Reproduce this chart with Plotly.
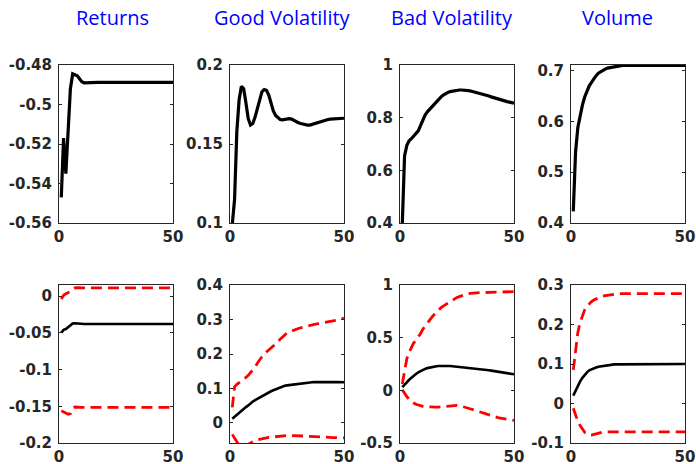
import plotly.graph_objects as go

horizon = list(range(1, 51))
titles = ["Returns", "Good Volatility", "Bad Volatility", "Volume"]

# Top row: impulse responses
ret_top = [-0.547, -0.517, -0.535, -0.512, -0.492, -0.4845, -0.485, -0.4855, -0.487, -0.4885,
           -0.489, -0.4889, -0.4888, -0.4888, -0.4888, -0.4888, -0.4888, -0.4888, -0.4888, -0.4888,
           -0.4888, -0.4888, -0.4888, -0.4888, -0.4888, -0.4888, -0.4888, -0.4888, -0.4888, -0.4888,
           -0.4888, -0.4888, -0.4888, -0.4888, -0.4888, -0.4888, -0.4888, -0.4888, -0.4888, -0.4888,
           -0.4888, -0.4888, -0.4888, -0.4888, -0.4888, -0.4888, -0.4888, -0.4888, -0.4888, -0.4888]
gvol_top = [0.099, 0.115, 0.158, 0.178, 0.1865, 0.185, 0.176, 0.166, 0.162, 0.163,
            0.167, 0.173, 0.179, 0.183, 0.1845, 0.184, 0.181, 0.176, 0.171, 0.168,
            0.1665, 0.1655, 0.1653, 0.1655, 0.166, 0.166, 0.1658, 0.165, 0.164, 0.1635,
            0.163, 0.1625, 0.162, 0.162, 0.162, 0.1625, 0.163, 0.1635, 0.164, 0.1645,
            0.165, 0.1652, 0.1655, 0.1657, 0.1658, 0.1659, 0.166, 0.1661, 0.1662, 0.1663]
bvol_top = [0.395, 0.655, 0.695, 0.712, 0.72, 0.73, 0.738, 0.75, 0.77, 0.793,
            0.81, 0.822, 0.832, 0.843, 0.853, 0.862, 0.871, 0.879, 0.886, 0.892,
            0.896, 0.899, 0.901, 0.903, 0.904, 0.905, 0.905, 0.905, 0.904, 0.903,
            0.901, 0.899, 0.897, 0.895, 0.892, 0.89, 0.887, 0.884, 0.882, 0.879,
            0.876, 0.874, 0.871, 0.869, 0.866, 0.864, 0.861, 0.859, 0.857, 0.855]
volu_top = [0.423, 0.54, 0.588, 0.612, 0.632, 0.648, 0.66, 0.67, 0.677, 0.684,
            0.69, 0.695, 0.698, 0.701, 0.703, 0.705, 0.706, 0.707, 0.708, 0.709,
            0.7095, 0.7098, 0.71, 0.71, 0.71, 0.71, 0.71, 0.71, 0.71, 0.71,
            0.71, 0.71, 0.71, 0.71, 0.71, 0.71, 0.71, 0.71, 0.71, 0.71,
            0.71, 0.71, 0.71, 0.71, 0.71, 0.71, 0.71, 0.71, 0.71, 0.71]

# Bottom row: responses with bands
ret_mid = [-0.05, -0.046, -0.045, -0.0425, -0.04, -0.0375, -0.037, -0.0375, -0.038, -0.038,
           -0.038, -0.038, -0.038, -0.038, -0.038, -0.038, -0.038, -0.038, -0.038, -0.038,
           -0.038, -0.038, -0.038, -0.038, -0.038, -0.038, -0.038, -0.038, -0.038, -0.038,
           -0.038, -0.038, -0.038, -0.038, -0.038, -0.038, -0.038, -0.038, -0.038, -0.038,
           -0.038, -0.038, -0.038, -0.038, -0.038, -0.038, -0.038, -0.038, -0.038, -0.038]
ret_up = [-0.004, 0.001, 0.003, 0.004, 0.006, 0.009, 0.011, 0.0115, 0.011, 0.011,
          0.011, 0.011, 0.011, 0.011, 0.011, 0.011, 0.011, 0.011, 0.011, 0.011,
          0.011, 0.011, 0.011, 0.011, 0.011, 0.011, 0.011, 0.011, 0.011, 0.011,
          0.011, 0.011, 0.011, 0.011, 0.011, 0.011, 0.011, 0.011, 0.011, 0.011,
          0.011, 0.011, 0.011, 0.011, 0.011, 0.011, 0.011, 0.011, 0.011, 0.011]
ret_lo = [-0.156, -0.158, -0.159, -0.161, -0.16, -0.153, -0.151, -0.1515, -0.1515, -0.1515,
          -0.1515, -0.1515, -0.1515, -0.1515, -0.1515, -0.1515, -0.1515, -0.1515, -0.1515, -0.1515,
          -0.1515, -0.1515, -0.1515, -0.1515, -0.1515, -0.1515, -0.1515, -0.1515, -0.1515, -0.1515,
          -0.1515, -0.1515, -0.1515, -0.1515, -0.1515, -0.1515, -0.1515, -0.1515, -0.1515, -0.1515,
          -0.1515, -0.1515, -0.1515, -0.1515, -0.1515, -0.1515, -0.1515, -0.1515, -0.1515, -0.1515]

gvol_mid = [0.012, 0.018, 0.024, 0.03, 0.035, 0.041, 0.046, 0.051, 0.057, 0.062,
            0.066, 0.07, 0.074, 0.078, 0.082, 0.085, 0.089, 0.092, 0.095, 0.098,
            0.1, 0.103, 0.106, 0.108, 0.109, 0.11, 0.111, 0.112, 0.113, 0.114,
            0.115, 0.116, 0.117, 0.1175, 0.118, 0.1183, 0.1186, 0.1188, 0.119, 0.119,
            0.119, 0.119, 0.119, 0.119, 0.1188, 0.1186, 0.1184, 0.1182, 0.118, 0.118]
gvol_up = [0.045, 0.105, 0.112, 0.117, 0.12, 0.125, 0.132, 0.138, 0.145, 0.153,
           0.162, 0.173, 0.184, 0.192, 0.2, 0.206, 0.212, 0.218, 0.223, 0.228,
           0.235, 0.243, 0.25, 0.256, 0.261, 0.264, 0.267, 0.269, 0.272, 0.274,
           0.276, 0.278, 0.28, 0.282, 0.284, 0.285, 0.286, 0.287, 0.288, 0.289,
           0.29, 0.291, 0.293, 0.294, 0.295, 0.297, 0.298, 0.3, 0.302, 0.304]
gvol_lo = [-0.033, -0.045, -0.058, -0.065, -0.068, -0.068, -0.066, -0.062, -0.058, -0.054,
           -0.051, -0.049, -0.047, -0.045, -0.044, -0.043, -0.042, -0.041, -0.04, -0.039,
           -0.038, -0.037, -0.0365, -0.036, -0.036, -0.036, -0.036, -0.036, -0.036, -0.0365,
           -0.037, -0.0375, -0.038, -0.0385, -0.039, -0.039, -0.0395, -0.04, -0.0402, -0.0405,
           -0.041, -0.0412, -0.0415, -0.042, -0.0422, -0.0424, -0.0426, -0.0428, -0.043, -0.043]

bvol_mid = [0.03, 0.05, 0.075, 0.1, 0.12, 0.14, 0.155, 0.17, 0.183, 0.194,
            0.203, 0.211, 0.217, 0.222, 0.226, 0.229, 0.231, 0.232, 0.233, 0.233,
            0.232, 0.231, 0.229, 0.227, 0.225, 0.223, 0.221, 0.219, 0.217, 0.215,
            0.213, 0.211, 0.209, 0.206, 0.203, 0.199, 0.196, 0.193, 0.19, 0.187,
            0.184, 0.181, 0.178, 0.175, 0.172, 0.168, 0.164, 0.16, 0.156, 0.152]
bvol_up = [0.06, 0.2, 0.3, 0.36, 0.41, 0.45, 0.47, 0.5, 0.54, 0.58,
           0.61, 0.645, 0.67, 0.695, 0.72, 0.745, 0.765, 0.785, 0.8, 0.815,
           0.83, 0.845, 0.86, 0.872, 0.882, 0.89, 0.898, 0.905, 0.912, 0.917,
           0.921, 0.924, 0.926, 0.927, 0.928, 0.928, 0.929, 0.929, 0.93, 0.93,
           0.931, 0.931, 0.932, 0.932, 0.933, 0.934, 0.935, 0.936, 0.937, 0.937]
bvol_lo = [0.005, -0.03, -0.06, -0.085, -0.105, -0.12, -0.132, -0.14, -0.147, -0.152,
           -0.155, -0.157, -0.158, -0.159, -0.16, -0.16, -0.159, -0.157, -0.154, -0.151,
           -0.148, -0.145, -0.143, -0.142, -0.143, -0.145, -0.15, -0.156, -0.163, -0.17,
           -0.177, -0.184, -0.19, -0.197, -0.205, -0.213, -0.221, -0.229, -0.236, -0.243,
           -0.249, -0.254, -0.259, -0.263, -0.267, -0.271, -0.275, -0.278, -0.282, -0.285]

volu_mid = [0.02, 0.033, 0.045, 0.056, 0.065, 0.073, 0.079, 0.084, 0.087, 0.089,
            0.091, 0.093, 0.094, 0.095, 0.096, 0.097, 0.098, 0.098, 0.099, 0.099,
            0.099, 0.1, 0.1, 0.1, 0.1, 0.1, 0.1, 0.1, 0.1, 0.1,
            0.1, 0.1, 0.1, 0.1, 0.1, 0.1, 0.1, 0.1, 0.1, 0.1,
            0.1, 0.1, 0.1, 0.1, 0.1, 0.1, 0.1, 0.1, 0.1, 0.1]
volu_up = [0.085, 0.14, 0.18, 0.205, 0.224, 0.237, 0.246, 0.253, 0.258, 0.262,
           0.265, 0.268, 0.27, 0.272, 0.273, 0.274, 0.275, 0.276, 0.277, 0.277,
           0.278, 0.278, 0.278, 0.278, 0.278, 0.278, 0.278, 0.278, 0.278, 0.278,
           0.278, 0.278, 0.278, 0.278, 0.278, 0.278, 0.278, 0.278, 0.278, 0.278,
           0.278, 0.278, 0.278, 0.278, 0.278, 0.278, 0.278, 0.278, 0.278, 0.278]
volu_lo = [-0.012, -0.03, -0.045, -0.056, -0.066, -0.073, -0.077, -0.08, -0.08, -0.078,
           -0.076, -0.075, -0.074, -0.073, -0.072, -0.072, -0.072, -0.072, -0.072, -0.072,
           -0.072, -0.072, -0.072, -0.072, -0.072, -0.072, -0.072, -0.072, -0.072, -0.072,
           -0.072, -0.072, -0.072, -0.072, -0.072, -0.072, -0.072, -0.072, -0.072, -0.072,
           -0.072, -0.072, -0.072, -0.072, -0.072, -0.072, -0.072, -0.072, -0.072, -0.072]

# Axis settings
top_ranges = [[-0.56, -0.48], [0.1, 0.2], [0.4, 1.0], [0.4, 0.711]]
top_ticks = [[-0.56, -0.54, -0.52, -0.5, -0.48], [0.1, 0.15, 0.2], [0.4, 0.6, 0.8, 1.0], [0.4, 0.5, 0.6, 0.7]]
top_labels = [["-0.56", "-0.54", "-0.52", "-0.5", "-0.48"], ["0.1", "0.15", "0.2"],
              ["0.4", "0.6", "0.8", "1"], ["0.4", "0.5", "0.6", "0.7"]]
bot_ranges = [[-0.2, 0.015], [-0.058, 0.4], [-0.5, 1.0], [-0.1, 0.3]]
bot_ticks = [[-0.2, -0.15, -0.1, -0.05, 0], [0, 0.1, 0.2, 0.3, 0.4], [-0.5, 0, 0.5, 1.0], [-0.1, 0, 0.1, 0.2, 0.3]]
bot_labels = [["-0.2", "-0.15", "-0.1", "-0.05", "0"], ["0", "0.1", "0.2", "0.3", "0.4"],
              ["-0.5", "0", "0.5", "1"], ["-0.1", "0", "0.1", "0.2", "0.3"]]
x_ticks = [0, 50]
x_labels = ["0", "50"]

W, H = 696, 464
col_px = [(59, 173), (230, 344), (400, 514), (571, 685)]
row_px = [(65, 223), (285, 443)]
title_cx = [112, 282, 452, 617]

top_series = [ret_top, gvol_top, bvol_top, volu_top]
bot_series = [(ret_mid, ret_up, ret_lo), (gvol_mid, gvol_up, gvol_lo),
              (bvol_mid, bvol_up, bvol_lo), (volu_mid, volu_up, volu_lo)]

fig = go.Figure()
tickfont = dict(family="DejaVu Sans", size=15, color="#262626", weight="bold")
axis_common = dict(showline=True, linecolor="#262626", linewidth=1, mirror="ticks",
                   ticks="inside", ticklen=3, tickcolor="#262626", showgrid=False,
                   zeroline=False, tickfont=tickfont, fixedrange=True, automargin=False,
                   ticklabeloverflow="allow")

layout = dict(width=W, height=H, margin=dict(l=0, r=0, t=0, b=0, pad=0, autoexpand=False),
              paper_bgcolor="white", plot_bgcolor="white", showlegend=False)
annotations = []

for r in range(2):
    for c in range(4):
        idx = r * 4 + c + 1
        xname = "x" if idx == 1 else f"x{idx}"
        yname = "y" if idx == 1 else f"y{idx}"
        if r == 0:
            fig.add_trace(go.Scatter(x=horizon, y=top_series[c], mode="lines",
                                     line=dict(color="black", width=3.2),
                                     xaxis=xname, yaxis=yname))
            yr, yt, yl = top_ranges[c], top_ticks[c], top_labels[c]
        else:
            mid, up, lo = bot_series[c]
            for s in (up, lo):
                fig.add_trace(go.Scatter(x=horizon, y=s, mode="lines",
                                         line=dict(color="#ff0000", width=2.8, dash="11px,6px"),
                                         xaxis=xname, yaxis=yname))
            fig.add_trace(go.Scatter(x=horizon, y=mid, mode="lines",
                                     line=dict(color="black", width=2.6),
                                     xaxis=xname, yaxis=yname))
            yr, yt, yl = bot_ranges[c], bot_ticks[c], bot_labels[c]
        x0, x1 = col_px[c]
        y0, y1 = row_px[r]
        layout["xaxis" if idx == 1 else f"xaxis{idx}"] = dict(
            axis_common, domain=[x0 / W, x1 / W], range=[0, 50],
            tickvals=x_ticks, ticktext=x_labels, anchor=yname)
        layout["yaxis" if idx == 1 else f"yaxis{idx}"] = dict(
            axis_common, domain=[1 - y1 / H, 1 - y0 / H], range=yr,
            tickvals=yt, ticktext=yl, anchor=xname, ticklabelstandoff=3)
        if r == 0:
            annotations.append(dict(text=titles[c], x=title_cx[c] / W, y=1 - 17 / H,
                                    xref="paper", yref="paper", showarrow=False,
                                    xanchor="center", yanchor="middle",
                                    font=dict(family="Open Sans", size=20, color="#0000ff")))

layout["annotations"] = annotations
fig.update_layout(**layout)
fig.write_html("out.html", config={"displayModeBar": False},
               post_script="document.body.style.margin='0';document.body.style.overflow='hidden';")
